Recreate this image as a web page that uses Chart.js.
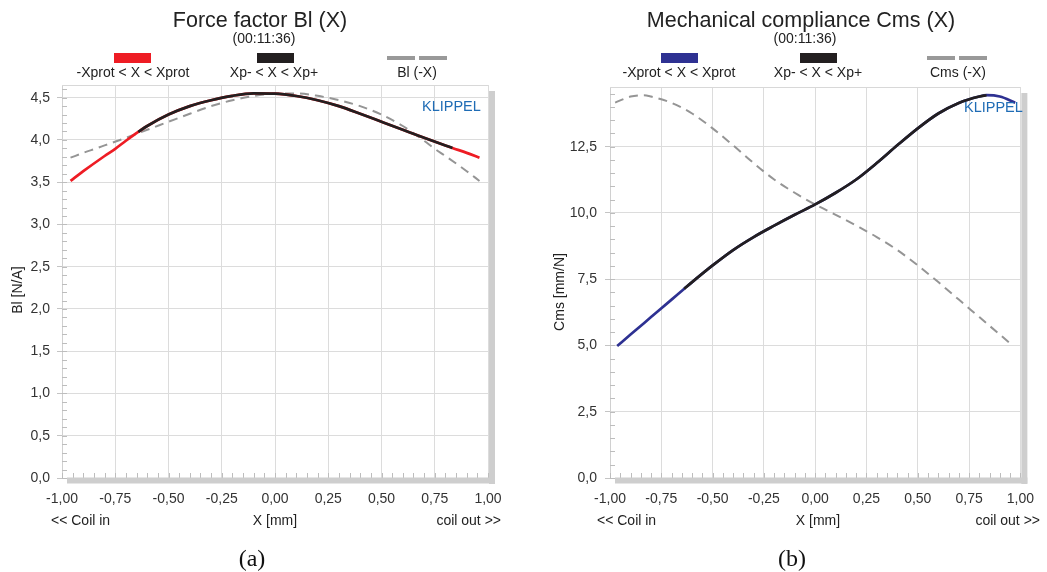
<!DOCTYPE html>
<html>
<head>
<meta charset="utf-8">
<script src="https://cdn.jsdelivr.net/npm/chart.js@4.4.0/dist/chart.umd.min.js"></script>
<style>
  html, body { margin: 0; padding: 0; background: #fff; }
  #wrap { position: relative; width: 1047px; height: 572px; overflow: hidden; }
  canvas { position: absolute; top: 0; }
  #c1 { left: 0; }
  #c2 { left: 520px; }
</style>
</head>
<body>
<div id="wrap">
  <canvas id="c1" width="520" height="572"></canvas>
  <canvas id="c2" width="527" height="572"></canvas>
</div>
<script>
// tick labels
const xTickValues = [-1, -0.75, -0.5, -0.25, 0, 0.25, 0.5, 0.75, 1];
const blTickValues = [0, 0.5, 1, 1.5, 2, 2.5, 3, 3.5, 4, 4.5];
const cmsTickValues = [0, 2.5, 5, 7.5, 10, 12.5];

// Force factor Bl(X) [N/A]
const blX = [-0.96, -0.9, -0.8, -0.75, -0.7, -0.642, -0.6, -0.5, -0.4, -0.3, -0.2, -0.1, 0, 0.1, 0.2, 0.3, 0.4, 0.5, 0.6, 0.7, 0.8, 0.833, 0.9, 0.96];
const blY = [3.515, 3.63, 3.81, 3.895, 3.99, 4.095, 4.165, 4.30, 4.40, 4.47, 4.522, 4.55, 4.547, 4.52, 4.47, 4.40, 4.31, 4.215, 4.12, 4.025, 3.935, 3.905, 3.847, 3.79];
// Bl(-X)
const blMirrorX = [-0.96, -0.9, -0.833, -0.8, -0.7, -0.6, -0.5, -0.4, -0.3, -0.2, -0.1, 0, 0.1, 0.2, 0.3, 0.4, 0.5, 0.6, 0.642, 0.7, 0.75, 0.8, 0.9, 0.96];
const blMirrorY = [3.79, 3.847, 3.905, 3.935, 4.025, 4.12, 4.215, 4.31, 4.40, 4.47, 4.52, 4.547, 4.55, 4.522, 4.47, 4.40, 4.30, 4.165, 4.095, 3.99, 3.895, 3.81, 3.63, 3.515];
// Xp- / Xp+ for Bl
const blLimits = [-0.642, 0.833];

// Mechanical compliance Cms(X) [mm/N]
const cmsX = [-0.965, -0.9, -0.8, -0.7, -0.638, -0.6, -0.5, -0.4, -0.3, -0.2, -0.1, 0, 0.1, 0.2, 0.3, 0.4, 0.5, 0.6, 0.7, 0.8, 0.835, 0.9, 0.975];
const cmsY = [4.98, 5.41, 6.07, 6.73, 7.14, 7.39, 8.02, 8.60, 9.09, 9.52, 9.93, 10.32, 10.76, 11.26, 11.88, 12.55, 13.19, 13.75, 14.15, 14.39, 14.44, 14.39, 14.16];
// Cms(-X)
const cmsMirrorX = [-0.975, -0.9, -0.835, -0.8, -0.7, -0.6, -0.5, -0.4, -0.3, -0.2, -0.1, 0, 0.1, 0.2, 0.3, 0.4, 0.5, 0.6, 0.638, 0.7, 0.8, 0.9, 0.965];
const cmsMirrorY = [14.16, 14.39, 14.44, 14.39, 14.15, 13.75, 13.19, 12.55, 11.88, 11.26, 10.76, 10.32, 9.93, 9.52, 9.09, 8.60, 8.02, 7.39, 7.14, 6.73, 6.07, 5.41, 4.98];
const cmsLimits = [-0.638, 0.835];

const FONT = '"Liberation Sans", Arial, sans-serif';

function pts(xs, ys) {
    return xs.map((x, i) => ({ x: x, y: ys[i] }));
}

function inside(xs, ys, lim) {
    return pts(xs, ys).filter(p => p.x >= lim[0] && p.x <= lim[1]);
}

function comma(v, d) {
    return v.toFixed(d).replace('.', ',');
}

// draws titles, legend, shadow frame, minor ticks and the extra labels
const decor = {
    id: 'decor',
    afterDraw(chart) {
        const o = chart.options.plugins.decor;
        const ctx = chart.ctx;
        const a = chart.chartArea;
        const xs = chart.scales.x;
        const ys = chart.scales.y;
        ctx.save();

        // top frame line
        ctx.strokeStyle = '#d8d8d8';
        ctx.lineWidth = 1;
        ctx.beginPath();
        ctx.moveTo(a.left, a.top + 0.5);
        ctx.lineTo(a.right, a.top + 0.5);
        ctx.stroke();

        // minor ticks
        ctx.strokeStyle = '#bdbdbd';
        ctx.beginPath();
        for (let i = -20; i <= 20; i++) {
            const px = Math.round(xs.getPixelForValue(i / 20)) + 0.5;
            ctx.moveTo(px, a.bottom);
            ctx.lineTo(px, a.bottom - 5);
        }
        for (let v = 0; v <= ys.max + 1e-9; v += o.minorStep) {
            const py = Math.round(ys.getPixelForValue(v)) + 0.5;
            ctx.moveTo(a.left, py);
            ctx.lineTo(a.left + 5, py);
        }
        ctx.stroke();

        // shadow
        ctx.fillStyle = '#cecece';
        ctx.fillRect(a.right + 1, a.top + 6, 6, a.bottom - a.top);
        ctx.fillRect(a.left + 5, a.bottom - 0.5, a.right - a.left + 2, 6);

        // legend
        o.legend.forEach(l => {
            ctx.fillStyle = l.color;
            if (l.dashed) {
                ctx.fillRect(l.x, 56, 28, 4);
                ctx.fillRect(l.x + 32, 56, 28, 4);
            } else {
                ctx.fillRect(l.x, 53, 37, 10);
            }
            ctx.fillStyle = '#222';
            ctx.font = '14px ' + FONT;
            ctx.textAlign = 'center';
            ctx.textBaseline = 'alphabetic';
            ctx.fillText(l.label, l.lx, 77);
        });

        // texts
        o.texts.forEach(t => {
            ctx.save();
            ctx.font = t.font;
            ctx.fillStyle = t.color || '#222';
            ctx.textAlign = t.align || 'center';
            ctx.textBaseline = t.baseline || 'alphabetic';
            ctx.translate(t.x, t.y);
            if (t.rotate) ctx.rotate(t.rotate);
            ctx.fillText(t.text, 0, 0);
            ctx.restore();
        });
        ctx.restore();
    }
};

function makeChart(id, c) {
    return new Chart(document.getElementById(id), {
        type: 'line',
        data: {
            datasets: [
                {
                    label: 'Xp- < X < Xp+',
                    data: inside(c.xs, c.ys, c.limits),
                    borderColor: '#231f20',
                    borderWidth: 2.7,
                    order: 0
                },
                {
                    label: '-Xprot < X < Xprot',
                    data: pts(c.xs, c.ys),
                    borderColor: c.color,
                    borderWidth: 2.7,
                    order: 1
                },
                {
                    label: c.mirrorLabel,
                    data: pts(c.mxs, c.mys),
                    borderColor: '#959595',
                    borderWidth: 2,
                    borderDash: [9, 6],
                    order: 2
                }
            ]
        },
        options: {
            responsive: false,
            animation: false,
            devicePixelRatio: 1,
            layout: { padding: { left: 0, top: c.top, right: c.padRight, bottom: 64 } },
            elements: {
                point: { radius: 0 },
                line: { cubicInterpolationMode: 'monotone', fill: false }
            },
            plugins: {
                legend: { display: false },
                tooltip: { enabled: false },
                decor: c.decor
            },
            scales: {
                x: {
                    type: 'linear',
                    min: -1,
                    max: 1,
                    afterBuildTicks: s => { s.ticks = xTickValues.map(v => ({ value: v })); },
                    afterFit: s => { s.height = 30; },
                    grid: { color: '#dcdcdc', drawTicks: false },
                    border: { color: '#d0d0d0' },
                    ticks: {
                        padding: 13,
                        color: '#333',
                        maxRotation: 0,
                        font: { family: FONT, size: 14 },
                        callback: v => comma(v, 2)
                    }
                },
                y: {
                    type: 'linear',
                    min: 0,
                    max: c.ymax,
                    afterBuildTicks: s => { s.ticks = c.yTicks.map(v => ({ value: v })); },
                    afterFit: s => { s.width = c.left; },
                    grid: { color: '#dcdcdc', tickLength: 5, tickColor: '#c4c4c4' },
                    border: { color: '#d0d0d0' },
                    ticks: {
                        padding: c.tickPad,
                        color: '#333',
                        font: { family: FONT, size: 14 },
                        callback: v => comma(v, 1)
                    }
                }
            }
        },
        plugins: [decor]
    });
}

makeChart('c1', {
    xs: blX, ys: blY, mxs: blMirrorX, mys: blMirrorY, limits: blLimits,
    color: '#ee1c24', mirrorLabel: 'Bl (-X)',
    ymax: 4.65, yTicks: blTickValues,
    top: 85, left: 62, padRight: 32, tickPad: 7,
    decor: {
        minorStep: 0.1,
        legend: [
            { color: '#ee1c24', x: 114, label: '-Xprot < X < Xprot', lx: 133 },
            { color: '#231f20', x: 257, label: 'Xp- < X < Xp+', lx: 274 },
            { color: '#999999', x: 387, dashed: true, label: 'Bl (-X)', lx: 417 }
        ],
        texts: [
            { text: 'Force factor Bl (X)', x: 260, y: 26.5, font: '21.5px ' + FONT },
            { text: '(00:11:36)', x: 264, y: 43, font: '14px ' + FONT },
            { text: 'Bl [N/A]', x: 22, y: 290, font: '14px ' + FONT, rotate: -Math.PI / 2 },
            { text: 'KLIPPEL', x: 422, y: 111, font: '14.5px ' + FONT, align: 'left', color: '#1f6cb5' },
            { text: '<< Coil in', x: 51, y: 525, font: '14px ' + FONT, align: 'left' },
            { text: 'X [mm]', x: 275, y: 525, font: '14px ' + FONT },
            { text: 'coil out >>', x: 501, y: 525, font: '14px ' + FONT, align: 'right' },
            { text: '(a)', x: 252, y: 566, font: '24px "Liberation Serif", serif', color: '#111' }
        ]
    }
});

makeChart('c2', {
    xs: cmsX, ys: cmsY, mxs: cmsMirrorX, mys: cmsMirrorY, limits: cmsLimits,
    color: '#2e3192', mirrorLabel: 'Cms (-X)',
    ymax: 14.75, yTicks: cmsTickValues,
    top: 87, left: 90, padRight: 20, tickPad: 8,
    decor: {
        minorStep: 0.5,
        legend: [
            { color: '#2e3192', x: 141, label: '-Xprot < X < Xprot', lx: 159 },
            { color: '#231f20', x: 280, label: 'Xp- < X < Xp+', lx: 298 },
            { color: '#999999', x: 407, dashed: true, label: 'Cms (-X)', lx: 438 }
        ],
        texts: [
            { text: 'Mechanical compliance Cms (X)', x: 281, y: 26.5, font: '21.5px ' + FONT },
            { text: '(00:11:36)', x: 285, y: 43, font: '14px ' + FONT },
            { text: 'Cms [mm/N]', x: 44, y: 292, font: '14px ' + FONT, rotate: -Math.PI / 2 },
            { text: 'KLIPPEL', x: 444, y: 112, font: '14.5px ' + FONT, align: 'left', color: '#1f6cb5' },
            { text: '<< Coil in', x: 77, y: 525, font: '14px ' + FONT, align: 'left' },
            { text: 'X [mm]', x: 298, y: 525, font: '14px ' + FONT },
            { text: 'coil out >>', x: 520, y: 525, font: '14px ' + FONT, align: 'right' },
            { text: '(b)', x: 272, y: 566, font: '24px "Liberation Serif", serif', color: '#111' }
        ]
    }
});
</script>
</body>
</html>
